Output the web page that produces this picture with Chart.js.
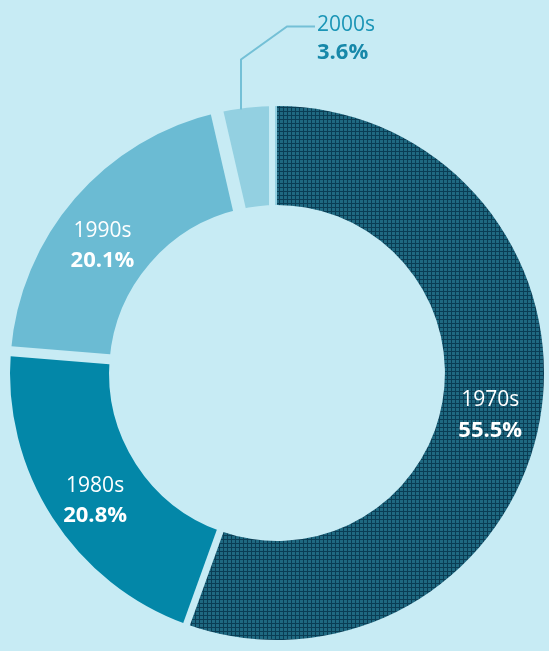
<!DOCTYPE html>
<html>
<head>
<meta charset="utf-8">
<script src="https://cdn.jsdelivr.net/npm/chart.js@4.4.1/dist/chart.umd.min.js"></script>
<style>
  html, body { margin: 0; padding: 0; background: #c7ebf4; }
  #wrap { width: 549px; height: 651px; position: relative; }
</style>
</head>
<body>
<div id="wrap"><canvas id="decadeChart"></canvas></div>
<script>
const decades = ['1970s', '1980s', '1990s', '2000s'];
const shares = [55.5, 20.8, 20.1, 3.6];
const shareLabels = ['55.5%', '20.8%', '20.1%', '3.6%'];

const bg = '#c7ebf4';

// grid-check fill for the biggest slice: light cells, dark lines
function makeHatch() {
    const c = document.createElement('canvas');
    c.width = 4;
    c.height = 4;
    const g = c.getContext('2d');
    g.fillStyle = '#0a3d54';
    g.fillRect(0, 0, 4, 4);
    g.fillStyle = '#1f6981';
    g.fillRect(0, 0, 3, 3);
    return g.createPattern(c, 'repeat');
}

const sliceColors = [makeHatch(), '#0387a8', '#6bbbd3', '#93d0e1'];

// cut a gap (background colour) along the start edge of every slice
const gapPlugin = {
    id: 'sliceGaps',
    afterDatasetsDraw(chart) {
        const ctx = chart.ctx;
        const arcs = chart.getDatasetMeta(0).data;
        const widths = [6, 7, 10, 13];
        const shifts = [-5, 0, 0, 0];
        ctx.save();
        ctx.strokeStyle = bg;
        ctx.lineCap = 'butt';
        arcs.forEach((arc, i) => {
            const a = arc.startAngle;
            const px = -Math.sin(a) * shifts[i];
            const py = Math.cos(a) * shifts[i];
            ctx.lineWidth = widths[i];
            ctx.beginPath();
            ctx.moveTo(arc.x + px + Math.cos(a) * (arc.innerRadius - 3), arc.y + py + Math.sin(a) * (arc.innerRadius - 3));
            ctx.lineTo(arc.x + px + Math.cos(a) * (arc.outerRadius + 3), arc.y + py + Math.sin(a) * (arc.outerRadius + 3));
            ctx.stroke();
        });
        ctx.restore();
    }
};

const labelPlugin = {
    id: 'sliceLabels',
    afterDatasetsDraw(chart) {
        const ctx = chart.ctx;
        const arcs = chart.getDatasetMeta(0).data;
        const nudge = [[-1, 5], [1, 10], [-10, 15]];
        ctx.save();
        ctx.textAlign = 'center';
        ctx.textBaseline = 'middle';
        arcs.forEach((arc, i) => {
            if (i === 3) return;
            const p = arc.tooltipPosition();
            const x = p.x + nudge[i][0];
            const y = p.y + nudge[i][1];
            ctx.fillStyle = '#ffffff';
            ctx.font = '21px "Open Sans", "Noto Sans", sans-serif';
            ctx.fillText(decades[i], x, y - 15);
            ctx.font = 'bold 22px "Open Sans", "Noto Sans", sans-serif';
            ctx.fillText(shareLabels[i], x, y + 15);
        });

        // small slice gets a leader line
        const a = arcs[3];
        const ang = a.startAngle + (a.endAngle - a.startAngle) * 0.4;
        const sx = a.x + Math.cos(ang) * (a.outerRadius - 1);
        const sy = a.y + Math.sin(ang) * (a.outerRadius - 1);
        ctx.strokeStyle = '#74c0d6';
        ctx.lineWidth = 2;
        ctx.beginPath();
        ctx.moveTo(sx, sy);
        ctx.lineTo(sx, sy - 50);
        ctx.lineTo(sx + 46, sy - 83);
        ctx.lineTo(sx + 74, sy - 83);
        ctx.stroke();
        ctx.textAlign = 'left';
        ctx.fillStyle = '#1b95b6';
        ctx.font = '21px "Open Sans", "Noto Sans", sans-serif';
        ctx.fillText(decades[3], sx + 76, sy - 84);
        ctx.fillStyle = '#1788a9';
        ctx.font = 'bold 22px "Open Sans", "Noto Sans", sans-serif';
        ctx.fillText(shareLabels[3], sx + 76, sy - 57);
        ctx.restore();
    }
};

new Chart(document.getElementById('decadeChart'), {
    type: 'doughnut',
    data: {
        labels: decades,
        datasets: [{
            data: shares,
            backgroundColor: sliceColors,
            borderWidth: 0,
            hoverBorderWidth: 0
        }]
    },
    options: {
        responsive: true,
        maintainAspectRatio: false,
        animation: false,
        cutout: '62.9%',
        layout: { padding: { left: 5, right: 0, top: 106, bottom: 11 } },
        plugins: {
            legend: { display: false },
            tooltip: { enabled: false }
        }
    },
    plugins: [gapPlugin, labelPlugin]
});
</script>
</body>
</html>
